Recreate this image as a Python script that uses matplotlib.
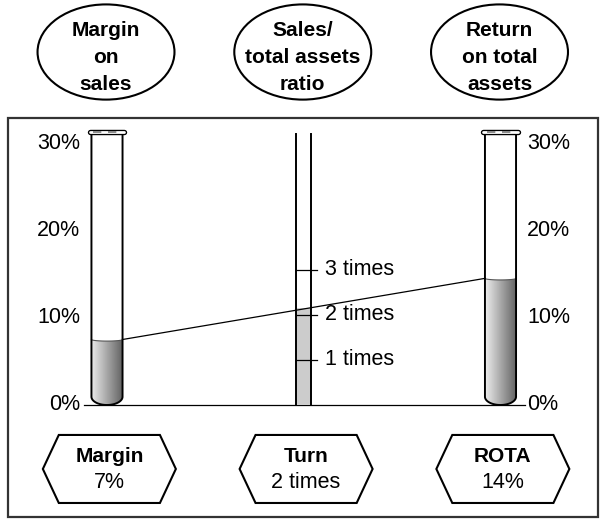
import numpy as np
import matplotlib
matplotlib.use("Agg")
import matplotlib.pyplot as plt
from matplotlib.patches import Ellipse, Polygon, Rectangle

plt.rcParams['font.family'] = ['Liberation Sans', 'DejaVu Sans']

# ---------------- data ----------------
categories = ["Margin", "Turn", "ROTA"]
header_labels = ["Margin\non\nsales", "Sales/\ntotal assets\nratio", "Return\non total\nassets"]
value_labels = ["7%", "2 times", "14%"]
margin_level = 7.5      # % (left tube fill)
turn_level = 2.15       # times (middle column fill)
rota_level = 14.5       # % (right tube fill)
pct_ticks = [0, 10, 20, 30]
pct_tick_labels = ["0%", "10%", "20%", "30%"]
turn_ticks = [1, 2, 3]
turn_tick_labels = ["1 times", "2 times", "3 times"]

# ---------------- layout / style ----------------
PCT_PER_TIME = 5.153    # vertical scale of the middle column (percent units per "time")
TUBE_HW = 0.079
TUBE_TOP = 31.26
TUBE_DEPTH = 0.95
RIM_HW = 0.097
MID_HW = 0.038
MID_TOP = 31.03
FS_B = 15
FS_R = 15.5

fig = plt.figure(figsize=(6.01, 5.19), dpi=100)
ax = fig.add_axes([0, 0, 1, 1])
XLIM = (-0.5438, 2.5108)
YLIM = (-13.054, 46.376)
ax.set_axis_off()

# frame
ax.add_patch(Rectangle((-0.503, -12.82), 3.0, 45.68, fill=False, ec='#333333', lw=1.6, zorder=1))

# baseline
ax.plot([-0.117, 2.1245], [0, 0], color='black', lw=0.9, zorder=2)


def tube_outline(xc, hw, top, depth, n=60):
    t = np.linspace(np.pi, 2 * np.pi, n)
    xs = xc + hw * np.cos(t)
    ys = depth + depth * np.sin(t)
    x = np.concatenate([[xc - hw], xs, [xc + hw]])
    y = np.concatenate([[top], ys, [top]])
    return x, y


def liquid_poly(xc, hw, level, depth, dip=0.18, n=60):
    t = np.linspace(np.pi, 2 * np.pi, n)
    xs = xc + hw * np.cos(t)
    ys = depth + depth * np.sin(t)
    s = np.linspace(0, np.pi, n)
    xm = xc + hw * np.cos(s)
    ym = level - dip * np.sin(s)
    x = np.concatenate([[xc - hw], xs, [xc + hw], xm])
    y = np.concatenate([[level], ys, [level], ym])
    return np.column_stack([x, y])


grad = np.linspace(0.93, 0.38, 200)[None, :]
for xc, lvl in [(0, margin_level), (2, rota_level)]:
    poly = Polygon(liquid_poly(xc, TUBE_HW, lvl, TUBE_DEPTH), closed=True,
                   transform=ax.transData, fc='none', ec='none')
    ax.add_patch(poly)
    im = ax.imshow(grad, cmap='gray', vmin=0, vmax=1, aspect='auto',
                   extent=[xc - TUBE_HW, xc + TUBE_HW, 0, lvl + 0.1], zorder=3,
                   interpolation='bilinear')
    im.set_clip_path(poly)
    # meniscus edge
    s = np.linspace(0, np.pi, 40)
    ax.plot(xc + TUBE_HW * np.cos(s), lvl - 0.18 * np.sin(s), color='#555555', lw=0.8, zorder=4)
    tx, ty = tube_outline(xc, TUBE_HW, TUBE_TOP, TUBE_DEPTH)
    ax.plot(tx, ty, color='black', lw=1.4, zorder=5, solid_joinstyle='round')
    # rim
    ax.plot([xc - RIM_HW + 0.01, xc + RIM_HW - 0.01], [TUBE_TOP, TUBE_TOP], color='black',
            lw=3.9, solid_capstyle='round', zorder=6)
    ax.plot([xc - RIM_HW + 0.01, xc + RIM_HW - 0.01], [TUBE_TOP, TUBE_TOP], color='white',
            lw=2.0, solid_capstyle='round', zorder=7)
    ax.plot([xc - TUBE_HW + 0.01, xc + TUBE_HW - 0.01], [TUBE_TOP, TUBE_TOP], color='#777777',
            lw=1.2, dashes=(5, 4), zorder=8)

# middle column
turn_h = turn_level * PCT_PER_TIME
ax.add_patch(Rectangle((1 - MID_HW, 0), 2 * MID_HW, turn_h, fc='#cccccc', ec='none', zorder=3))
for xe in (1 - MID_HW, 1 + MID_HW):
    ax.plot([xe, xe], [0, MID_TOP], color='black', lw=1.4, zorder=5)
for t, lab in zip(turn_ticks, turn_tick_labels):
    y = t * PCT_PER_TIME
    ax.plot([1 - MID_HW, 1 + 0.069], [y, y], color='black', lw=0.9, zorder=5)
    ax.text(1 + 0.109, y, lab, fontsize=FS_R, ha='left', va='center', zorder=6)

# connecting line margin -> ROTA
ax.plot([0 + TUBE_HW, 2 - TUBE_HW], [margin_level, rota_level], color='black', lw=0.9, zorder=6)

# percentage scales
for v, lab in zip(pct_ticks, pct_tick_labels):
    ax.text(-0.137, v, lab, fontsize=FS_R, ha='right', va='center')
    ax.text(2.135, v, lab, fontsize=FS_R, ha='left', va='center')

# header ellipses
for i, lab in enumerate(header_labels):
    ax.add_patch(Ellipse((i - 0.005, 40.42), 0.696, 10.9, fill=False, ec='black', lw=1.5, clip_on=False))
    for j, line in enumerate(lab.split("\n")):
        ax.text(i - 0.005, 42.25 - j * 3.09, line, fontsize=FS_B, fontweight='bold',
                ha='center', va='baseline')

# bottom hexagons
HEX_HW = 0.338
HEX_IN = 0.081
HEX_TOP, HEX_BOT = -3.43, -11.22
for i, (cat, val) in enumerate(zip(categories, value_labels)):
    cx = i + 0.012
    cy = (HEX_TOP + HEX_BOT) / 2
    pts = [(cx - HEX_HW, cy), (cx - HEX_HW + HEX_IN, HEX_TOP), (cx + HEX_HW - HEX_IN, HEX_TOP),
           (cx + HEX_HW, cy), (cx + HEX_HW - HEX_IN, HEX_BOT), (cx - HEX_HW + HEX_IN, HEX_BOT)]
    ax.add_patch(Polygon(pts, closed=True, fill=False, ec='black', lw=1.5, joinstyle='miter'))
    ax.text(cx, -6.53, cat, fontsize=FS_B, fontweight='bold', ha='center', va='baseline')
    ax.text(cx, -9.50, val, fontsize=FS_R, ha='center', va='baseline')

ax.set_xlim(*XLIM)
ax.set_ylim(*YLIM)
fig.savefig("out.png", dpi=100)
